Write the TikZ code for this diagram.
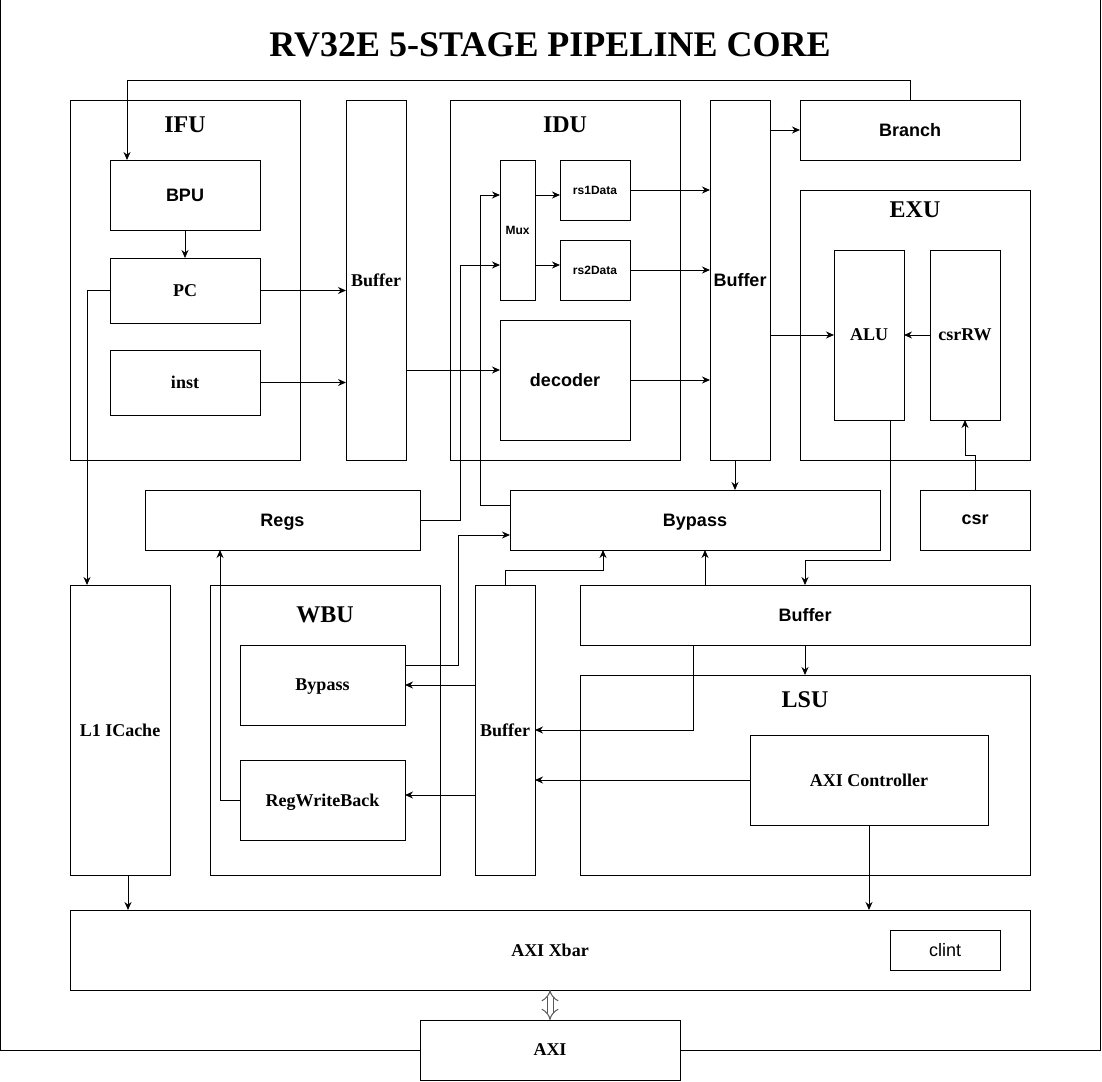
\documentclass[tikz,border=0pt]{standalone}
\usepackage{fontspec}
\setmainfont{Liberation Serif}
\setsansfont{Liberation Sans}
\usetikzlibrary{calc,arrows.meta}
\pgfkeys{
  /blk/.cd,
  name/.initial=blk,
  corner/.initial={0,0},
  width/.initial=60,
  height/.initial=60,
  size/.style 2 args={width=#1,height=#2}
}
\newcommand{\blk}[3][]{
    {
        \pgfkeys{/blk/.cd,#1}
        \pgfkeys{/blk/name/.get=\blkname}
        \pgfkeys{/blk/corner/.get=\blkcorner}
        \pgfkeys{/blk/width/.get=\blkwidth}
        \pgfkeys{/blk/height/.get=\blkheight}
        \node[#2,minimum width=\blkwidth,minimum height=\blkheight] (\blkname) at (\blkcorner) {#3};
    }
}

\begin{document}
\begin{tikzpicture}[x=1pt,y=-1pt,line width=1pt,
    blockbox/.style={draw,anchor=north west,inner sep=0pt,outer sep=0pt,text depth=0pt},
    rmbox/.style={blockbox,font=\rmfamily\bfseries\fontsize{18}{22}\selectfont},
    sfbox/.style={blockbox,font=\sffamily\bfseries\fontsize{18}{22}\selectfont},
    smallbox/.style={blockbox,font=\sffamily\bfseries\fontsize{12}{14}\selectfont},
    plainbox/.style={blockbox,font=\sffamily\fontsize{18}{22}\selectfont},
    unitname/.style={font=\rmfamily\bfseries\fontsize{24}{28}\selectfont,inner sep=0pt},
    heading/.style={font=\rmfamily\bfseries\fontsize{36}{40}\selectfont,inner sep=0pt},
    link/.style={-{Stealth[length=8pt,width=7pt]}},
    bus/.style={draw=gray!70!black,double=white,double distance=5pt,line width=1pt,{Implies[]}-{Implies[]}}]
    \path[use as bounding box] (0,0) rectangle (1102,1081);
    \draw (0,0) rectangle (1100,1050);

    \node[heading] (title) at (550,45) {RV32E 5-STAGE PIPELINE CORE};

    \blk[name=ifu,corner={70,100},size={230}{360}]{blockbox}{}
    \blk[name=bpu,corner={110,160},size={150}{70}]{sfbox}{BPU}
    \blk[name=pc,corner={110,258},size={150}{65}]{rmbox}{PC}
    \blk[name=inst,corner={110,350},size={150}{65}]{rmbox}{inst}
    \blk[name=buf1,corner={346,100},size={60}{360}]{rmbox}{Buffer}
    \blk[name=idu,corner={450,100},size={230}{360}]{blockbox}{}
    \blk[name=mux,corner={500,160},size={35}{140}]{smallbox}{Mux}
    \blk[name=rs1,corner={560,160},size={70}{60}]{smallbox}{rs1Data}
    \blk[name=rs2,corner={560,240},size={70}{60}]{smallbox}{rs2Data}
    \blk[name=decoder,corner={500,320},size={130}{120}]{sfbox}{decoder}
    \blk[name=buf2,corner={710,100},size={60}{360}]{sfbox}{Buffer}
    \blk[name=branch,corner={800,100},size={220}{60}]{sfbox}{Branch}
    \blk[name=exu,corner={800,190},size={230}{270}]{blockbox}{}
    \blk[name=alu,corner={834,250},size={70}{170}]{rmbox}{ALU}
    \blk[name=csrrw,corner={930,250},size={70}{170}]{rmbox}{csrRW}
    \blk[name=regs,corner={145,490},size={275}{60}]{sfbox}{Regs}
    \blk[name=bypass,corner={510,490},size={370}{60}]{sfbox}{Bypass}
    \blk[name=csr,corner={920,490},size={110}{60}]{sfbox}{csr}
    \blk[name=icache,corner={70,585},size={100}{290}]{rmbox}{L1 ICache}
    \blk[name=wbu,corner={210,585},size={230}{290}]{blockbox}{}
    \blk[name=wbyp,corner={240,645},size={165}{80}]{rmbox}{Bypass}
    \blk[name=regwb,corner={240,760},size={165}{80}]{rmbox}{RegWriteBack}
    \blk[name=buf3,corner={475,585},size={60}{290}]{rmbox}{Buffer}
    \blk[name=buf4,corner={580,585},size={450}{60}]{sfbox}{Buffer}
    \blk[name=lsu,corner={580,675},size={450}{200}]{blockbox}{}
    \blk[name=axictl,corner={750,735},size={238}{90}]{rmbox}{AXI Controller}
    \blk[name=xbar,corner={70,910},size={960}{80}]{rmbox}{AXI Xbar}
    \blk[name=clint,corner={890,930},size={110}{40}]{plainbox}{clint}
    \blk[name=axi,corner={420,1020},size={260}{60}]{rmbox,fill=white}{AXI}

    \foreach \u/\t/\d in {ifu/IFU/25,idu/IDU/25,exu/EXU/20,wbu/WBU/30,lsu/LSU/25}
        \node[unitname] (\u-title) at ($(\u.north)+(0,\d)$) {\t};

    \coordinate (mux1) at ($(mux.north)+(0,35)$);
    \coordinate (mux2) at ($(mux.north)+(0,105)$);

    \draw[link] (branch.north) -- ++(0,-20) -| ($(bpu.north west)+(17,0)$);
    \draw[link] (bpu.south) -- (pc.north);
    \foreach \s in {pc,inst}
        \draw[link] (\s.east) -- (\s.east -| buf1.west);
    \draw[link] (pc.west) -| ($(icache.north west)+(17,0)$);
    \draw[link] ($(decoder.west -| buf1.east)+(0,-10)$) -- ($(decoder.west)+(0,-10)$);
    \draw[link] (mux1 -| mux.east) -- (mux1 -| rs1.west);
    \draw[link] (mux2 -| mux.east) -- (mux2 -| rs2.west);
    \foreach \s in {rs1,rs2,decoder}
        \draw[link] (\s.east) -- (\s.east -| buf2.west);
    \draw[link] (branch.west -| buf2.east) -- (branch.west);
    \draw[link] (alu.west -| buf2.east) -- (alu.west);
    \draw[link] (csrrw.west) -- (alu.east);
    \draw[link] (csr.north) -- ++(0,-35) -| (csrrw.south);
    \draw[link] ($(alu.south east)+(-14,0)$) -- ++(0,140) -| (buf4.north);
    \draw[link] ($(buf2.south)+(-5,0)$) -- ($(buf2.south |- bypass.north)+(-5,0)$);
    \draw[link] (regs.east) -- ++(40,0) |- (mux2 -| mux.west);
    \draw[link] ($(bypass.north west)+(0,15)$) -- ++(-30,0) |- (mux1 -| mux.west);
    \draw[link] ($(wbyp.north east)+(0,20)$) -- ++(53,0) |- ($(bypass.south west)+(0,-15)$);
    \draw[link] (buf3.north) -- ++(0,-15) -| ($(bypass.south west)+(93,0)$);
    \draw[link] ($(buf4.north west)+(125,0)$) -- ($(bypass.south west)+(195,0)$);
    \draw[link] (wbyp.east -| buf3.west) -- (wbyp.east);
    \draw[link] ($(regwb.east -| buf3.west)+(0,-5)$) -- ($(regwb.east)+(0,-5)$);
    \draw[link] (regwb.west) -| ($(regs.south west)+(75,0)$);
    \draw[link] ($(buf4.south west)+(113,0)$) |- (buf3.east);
    \draw[link] (buf4.south) -- (lsu.north);
    \draw[link] (axictl.west) -- (axictl.west -| buf3.east);
    \draw[link] (axictl.south) -- (axictl.south |- xbar.north);
    \draw[link] ($(icache.south)+(8,0)$) -- ($(icache.south |- xbar.north)+(8,0)$);
    \draw[bus] (xbar.south) -- (axi.north);
\end{tikzpicture}
\end{document}
